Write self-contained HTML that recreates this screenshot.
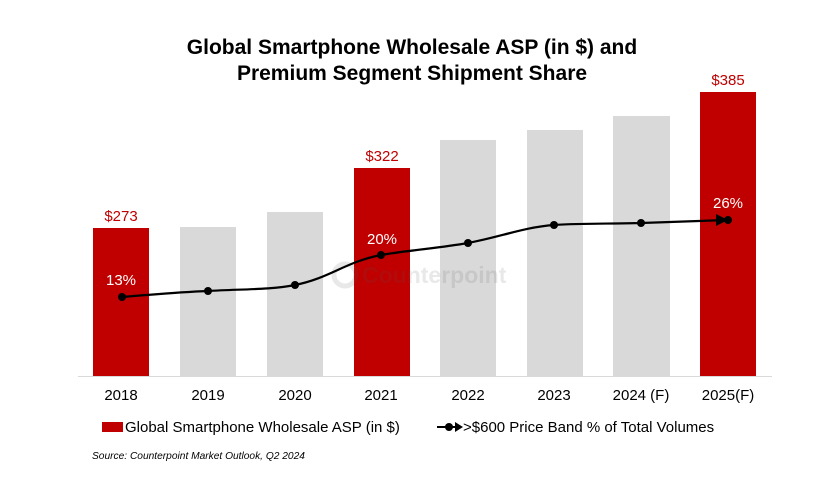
<!DOCTYPE html>
<html><head><meta charset="utf-8"><style>
html,body{margin:0;padding:0;background:#fff;width:831px;height:495px;overflow:hidden}
svg{display:block}
text{font-family:"Liberation Sans",Arial,sans-serif}
</style></head><body>
<svg width="831" height="495" viewBox="0 0 831 495">
<text x="412" y="54" text-anchor="middle" font-size="21" font-weight="bold" fill="#000">Global Smartphone Wholesale ASP (in $) and</text>
<text x="412" y="80" text-anchor="middle" font-size="21" font-weight="bold" fill="#000">Premium Segment Shipment Share</text>
<g fill="#d9d9d9">
<rect x="180" y="227" width="56" height="149"/>
<rect x="267" y="212" width="56" height="164"/>
<rect x="440" y="140" width="56" height="236"/>
<rect x="527" y="130" width="56" height="246"/>
<rect x="613" y="116" width="57" height="260"/>
</g>
<g fill="#c00000">
<rect x="93" y="228" width="56" height="148"/>
<rect x="354" y="168" width="56" height="208"/>
<rect x="700" y="92" width="56" height="284"/>
</g>
<line x1="78" y1="376.5" x2="772" y2="376.5" stroke="#d9d9d9" stroke-width="1"/>
<g opacity="0.13" fill="#555">
<circle cx="345" cy="275" r="11" fill="none" stroke="#555" stroke-width="5"/>
<text x="362" y="283" font-size="23" font-weight="bold">Counterpoint</text>
</g>
<g font-size="15" fill="#c00000" text-anchor="middle">
<text x="121" y="221">$273</text>
<text x="382" y="161">$322</text>
<text x="728" y="85">$385</text>
</g>
<path d="M122,297 C160,294 180,292 208,291 C240,289 270,290 295,285 C330,278 345,262 381,255 C410,250 440,248 468,243 C500,237 525,227 554,225 C585,223 610,224 641,223 C670,222 700,221 727,220" fill="none" stroke="#000" stroke-width="2.2"/>
<polygon points="716,214 728,220 716,226" fill="#000"/>
<g fill="#000">
<circle cx="122" cy="297" r="4"/><circle cx="208" cy="291" r="4"/><circle cx="295" cy="285" r="4"/><circle cx="381" cy="255" r="4"/><circle cx="468" cy="243" r="4"/><circle cx="554" cy="225" r="4"/><circle cx="641" cy="223" r="4"/><circle cx="728" cy="220" r="4"/>
</g>
<g font-size="15" fill="#fff" text-anchor="middle">
<text x="121" y="285">13%</text>
<text x="382" y="244">20%</text>
<text x="728" y="208">26%</text>
</g>
<g font-size="15" fill="#000" text-anchor="middle">
<text x="121" y="400">2018</text><text x="208" y="400">2019</text><text x="295" y="400">2020</text><text x="381" y="400">2021</text><text x="468" y="400">2022</text><text x="554" y="400">2023</text><text x="641" y="400">2024 (F)</text><text x="728" y="400">2025(F)</text>
</g>
<rect x="102" y="422" width="21" height="10" fill="#c00000"/>
<text x="125" y="432" font-size="15" fill="#000">Global Smartphone Wholesale ASP (in $)</text>
<line x1="437" y1="427" x2="461" y2="427" stroke="#000" stroke-width="2"/>
<circle cx="449" cy="427" r="4" fill="#000"/>
<polygon points="455,422 463,427 455,432" fill="#000"/>
<text x="463" y="432" font-size="15" fill="#000">&gt;$600 Price Band % of Total Volumes</text>
<text x="92" y="459" font-size="10.2" font-style="italic" fill="#000">Source: Counterpoint Market Outlook, Q2 2024</text>
</svg>
</body></html>
